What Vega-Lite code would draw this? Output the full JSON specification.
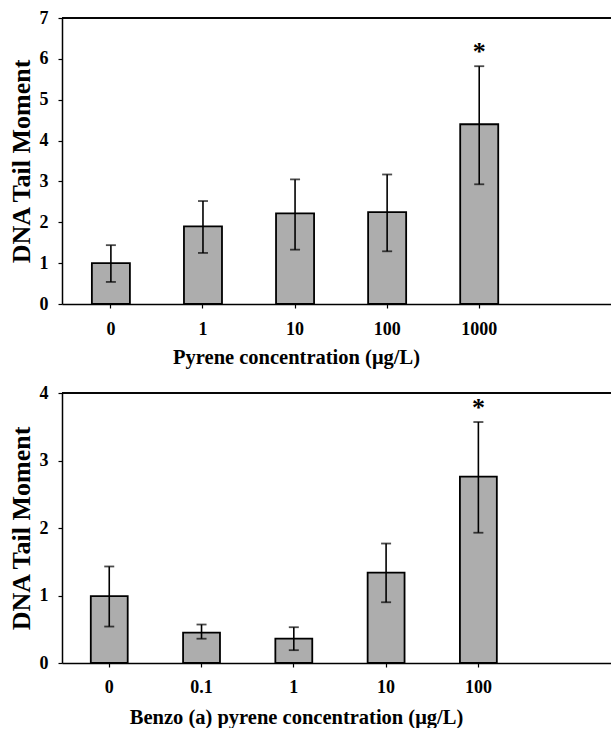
{
  "$schema": "https://vega.github.io/schema/vega-lite/v6.json",
  "padding": {"left": 8, "top": 9, "right": 0, "bottom": 0},
  "background": "white",
  "spacing": 16,
  "config": {
    "view": {"stroke": null},
    "font": "Liberation Serif",
    "axis": {
      "labelFont": "Liberation Serif",
      "labelFontWeight": "bold",
      "labelFontSize": 18,
      "labelColor": "black",
      "titleFont": "Liberation Serif",
      "titleFontWeight": "bold",
      "titleFontSize": 20.5,
      "titleColor": "black",
      "domainColor": "black",
      "domainWidth": 1.5,
      "tickColor": "black",
      "tickWidth": 1.2,
      "tickSize": 4,
      "grid": false
    },
    "axisX": {"labelAngle": 0, "labelPadding": 12, "titlePadding": 9, "titleX": 234, "titleAlign": "center"},
    "axisY": {"labelPadding": 10, "titleFontSize": 26, "titlePadding": 5, "format": "d"}
  },
  "datasets": {
    "pyrene": [
      {"conc": "0", "mean": 1.0, "lower": 0.54, "upper": 1.44, "sig": ""},
      {"conc": "1", "mean": 1.9, "lower": 1.25, "upper": 2.52, "sig": ""},
      {"conc": "10", "mean": 2.22, "lower": 1.33, "upper": 3.05, "sig": ""},
      {"conc": "100", "mean": 2.25, "lower": 1.29, "upper": 3.17, "sig": ""},
      {"conc": "1000", "mean": 4.4, "lower": 2.93, "upper": 5.82, "sig": "*"}
    ],
    "bap": [
      {"conc": "0", "mean": 0.99, "lower": 0.54, "upper": 1.43, "sig": ""},
      {"conc": "0.1", "mean": 0.45, "lower": 0.36, "upper": 0.57, "sig": ""},
      {"conc": "1", "mean": 0.36, "lower": 0.19, "upper": 0.53, "sig": ""},
      {"conc": "10", "mean": 1.34, "lower": 0.9, "upper": 1.77, "sig": ""},
      {"conc": "100", "mean": 2.76, "lower": 1.93, "upper": 3.57, "sig": "*"}
    ]
  },
  "vconcat": [
    {
      "width": 550,
      "height": 286,
      "data": {"name": "pyrene"},
      "layer": [
        {
          "mark": {"type": "bar", "fill": "#adadad", "stroke": "black", "strokeWidth": 1.8},
          "encoding": {
            "x": {"field": "conc", "type": "ordinal", "sort": ["0", "1", "10", "100", "1000"],
              "scale": {"paddingInner": 0.587, "paddingOuter": 0.78, "align": 0.208},
              "axis": {"title": "Pyrene concentration (μg/L)"}},
            "y": {"field": "mean", "type": "quantitative",
              "scale": {"domain": [0, 7], "nice": false},
              "axis": {"title": "DNA Tail Moment", "values": [0, 1, 2, 3, 4, 5, 6, 7]}}
          }
        },
        {
          "mark": {"type": "rule", "color": "black", "strokeWidth": 1.6},
          "encoding": {
            "x": {"field": "conc", "type": "ordinal", "sort": ["0", "1", "10", "100", "1000"]},
            "y": {"field": "lower", "type": "quantitative"},
            "y2": {"field": "upper"}
          }
        },
        {
          "mark": {"type": "tick", "color": "black", "size": 10, "thickness": 1.8},
          "encoding": {
            "x": {"field": "conc", "type": "ordinal", "sort": ["0", "1", "10", "100", "1000"]},
            "y": {"field": "upper", "type": "quantitative"}
          }
        },
        {
          "mark": {"type": "tick", "color": "black", "size": 10, "thickness": 1.8},
          "encoding": {
            "x": {"field": "conc", "type": "ordinal", "sort": ["0", "1", "10", "100", "1000"]},
            "y": {"field": "lower", "type": "quantitative"}
          }
        },
        {
          "mark": {"type": "text", "font": "Liberation Serif", "fontWeight": "bold", "fontSize": 26, "baseline": "alphabetic", "dy": -6, "color": "black"},
          "encoding": {
            "x": {"field": "conc", "type": "ordinal", "sort": ["0", "1", "10", "100", "1000"]},
            "y": {"field": "upper", "type": "quantitative"},
            "text": {"field": "sig"}
          }
        },
        {
          "mark": {"type": "rule", "color": "black", "strokeWidth": 1.2},
          "encoding": {"y": {"datum": 7}}
        }
      ]
    },
    {
      "width": 550,
      "height": 270,
      "data": {"name": "bap"},
      "layer": [
        {
          "mark": {"type": "bar", "fill": "#adadad", "stroke": "black", "strokeWidth": 1.8},
          "encoding": {
            "x": {"field": "conc", "type": "ordinal", "sort": ["0", "0.1", "1", "10", "100"],
              "scale": {"paddingInner": 0.6, "paddingOuter": 0.78, "align": 0.2},
              "axis": {"title": "Benzo (a) pyrene concentration (μg/L)", "titlePadding": 11, "labelPadding": 11}},
            "y": {"field": "mean", "type": "quantitative",
              "scale": {"domain": [0, 4], "nice": false},
              "axis": {"title": "DNA Tail Moment", "values": [0, 1, 2, 3, 4]}}
          }
        },
        {
          "mark": {"type": "rule", "color": "black", "strokeWidth": 1.6},
          "encoding": {
            "x": {"field": "conc", "type": "ordinal", "sort": ["0", "0.1", "1", "10", "100"]},
            "y": {"field": "lower", "type": "quantitative"},
            "y2": {"field": "upper"}
          }
        },
        {
          "mark": {"type": "tick", "color": "black", "size": 10, "thickness": 1.8},
          "encoding": {
            "x": {"field": "conc", "type": "ordinal", "sort": ["0", "0.1", "1", "10", "100"]},
            "y": {"field": "upper", "type": "quantitative"}
          }
        },
        {
          "mark": {"type": "tick", "color": "black", "size": 10, "thickness": 1.8},
          "encoding": {
            "x": {"field": "conc", "type": "ordinal", "sort": ["0", "0.1", "1", "10", "100"]},
            "y": {"field": "lower", "type": "quantitative"}
          }
        },
        {
          "mark": {"type": "text", "font": "Liberation Serif", "fontWeight": "bold", "fontSize": 26, "baseline": "alphabetic", "dy": -6, "color": "black"},
          "encoding": {
            "x": {"field": "conc", "type": "ordinal", "sort": ["0", "0.1", "1", "10", "100"]},
            "y": {"field": "upper", "type": "quantitative"},
            "text": {"field": "sig"}
          }
        },
        {
          "mark": {"type": "rule", "color": "black", "strokeWidth": 1.2},
          "encoding": {"y": {"datum": 4}}
        }
      ]
    }
  ]
}
